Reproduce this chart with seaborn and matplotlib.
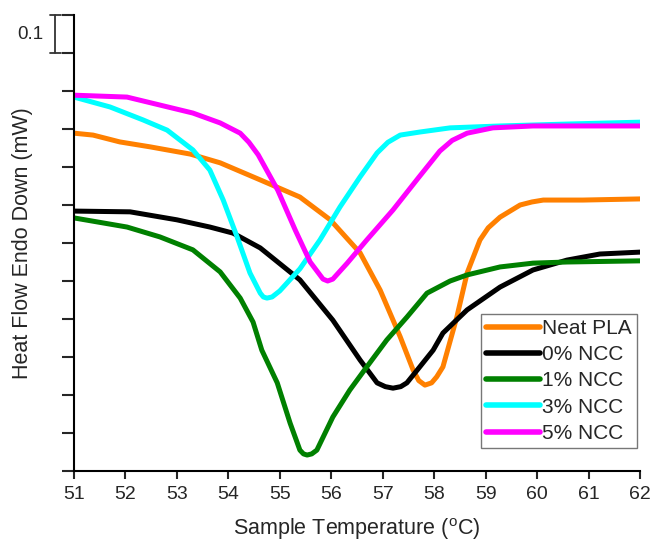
import numpy as np
import pandas as pd
import matplotlib
matplotlib.use("Agg")
import matplotlib.pyplot as plt
import matplotlib.transforms as mtransforms
import seaborn as sns

# ---- data (temperature in °C, heat flow offset in mW) ----
neat_T = [51.00, 51.37, 51.89, 52.48, 53.26, 53.84, 54.62, 55.39, 55.98, 56.56, 56.95,
          57.34, 57.59, 57.70, 57.82, 57.95, 58.05, 58.17, 58.44, 58.64, 58.89, 59.05,
          59.28, 59.67, 59.90, 60.12, 60.89, 62.00]
neat_v = [0.889, 0.884, 0.866, 0.853, 0.834, 0.811, 0.766, 0.721, 0.661, 0.574, 0.476,
          0.353, 0.266, 0.238, 0.226, 0.232, 0.248, 0.274, 0.405, 0.521, 0.608, 0.640,
          0.668, 0.700, 0.708, 0.713, 0.713, 0.716]

ncc0_T = [51.00, 52.09, 53.00, 53.64, 54.09, 54.62, 55.39, 56.03, 56.56, 56.89, 57.05, 57.20,
          57.35, 57.47, 57.72, 57.98, 58.17, 58.64, 59.28, 59.92, 60.58, 61.22, 62.00]
ncc0_v = [0.684, 0.682, 0.661, 0.642, 0.626, 0.587, 0.503, 0.397, 0.292, 0.232, 0.222, 0.218,
          0.222, 0.232, 0.274, 0.318, 0.363, 0.424, 0.484, 0.529, 0.555, 0.571, 0.576]

ncc1_T = [51.00, 52.03, 52.67, 53.31, 53.84, 54.23, 54.48, 54.65, 54.95, 55.20, 55.39, 55.46,
          55.53, 55.62, 55.72, 56.03, 56.36, 56.69, 57.08, 57.47, 57.86, 58.31, 58.64, 59.28,
          59.92, 60.58, 62.00]
ncc1_v = [0.666, 0.642, 0.616, 0.582, 0.524, 0.455, 0.392, 0.318, 0.232, 0.126, 0.055, 0.045,
          0.042, 0.045, 0.055, 0.142, 0.213, 0.274, 0.345, 0.405, 0.468, 0.500, 0.516, 0.537,
          0.547, 0.550, 0.553]

ncc3_T = [51.00, 51.70, 52.34, 52.81, 53.31, 53.64, 53.90, 54.17, 54.42, 54.62, 54.68, 54.75,
          54.85, 55.00, 55.39, 55.78, 56.17, 56.56, 56.89, 57.10, 57.34, 57.72, 58.31, 59.28,
          60.58, 62.00]
ncc3_v = [0.984, 0.958, 0.924, 0.897, 0.845, 0.792, 0.713, 0.616, 0.521, 0.468, 0.458, 0.455,
          0.458, 0.474, 0.532, 0.608, 0.695, 0.774, 0.837, 0.865, 0.884, 0.892, 0.903, 0.908,
          0.913, 0.918]

ncc5_T = [51.00, 52.03, 52.67, 53.31, 53.84, 54.23, 54.40, 54.58, 54.96, 55.30, 55.59, 55.84,
          55.93, 56.03, 56.31, 56.69, 57.20, 57.69, 58.11, 58.35, 58.64, 59.14, 59.92, 62.00]
ncc5_v = [0.989, 0.984, 0.963, 0.942, 0.916, 0.889, 0.865, 0.832, 0.739, 0.634, 0.550, 0.505,
          0.500, 0.505, 0.547, 0.608, 0.687, 0.771, 0.842, 0.870, 0.889, 0.903, 0.908, 0.908]

labels = ["Neat PLA", "0% NCC", "1% NCC", "3% NCC", "5% NCC"]
colors = ["#FF8000", "#000000", "#008000", "#00FFFF", "#FF00FF"]
x_ticks = list(range(51, 63))

series = [(neat_T, neat_v), (ncc0_T, ncc0_v), (ncc1_T, ncc1_v), (ncc3_T, ncc3_v), (ncc5_T, ncc5_v)]
frames = []
for lab, (t, v) in zip(labels, series):
    frames.append(pd.DataFrame({"T": t, "v": v, "Sample": lab}))
df = pd.concat(frames, ignore_index=True)

sns.set_style("white")
plt.rcParams["font.family"] = ["Liberation Sans", "DejaVu Sans"]
plt.rcParams["mathtext.default"] = "regular"

fig = plt.figure(figsize=(6.51, 5.43), dpi=100)
ax = fig.add_axes([74 / 651, 72 / 543, 566 / 651, 456 / 543])

sns.lineplot(data=df, x="T", y="v", hue="Sample", hue_order=labels,
             palette=dict(zip(labels, colors)), estimator=None, sort=False,
             linewidth=3.6, solid_joinstyle="round", solid_capstyle="round", ax=ax)

ax.set_xlim(51, 62)
ax.set_ylim(0, 1.2)
ax.set_xticks(x_ticks)
ax.set_xticklabels([str(t) for t in x_ticks], fontsize=14)
ax.set_yticks(np.arange(0, 1.21, 0.1))
ax.set_yticklabels([])
for s in ["top", "right"]:
    ax.spines[s].set_visible(False)
for s in ["left", "bottom"]:
    ax.spines[s].set_linewidth(1.5)
    ax.spines[s].set_color("black")
ax.tick_params(axis="x", direction="out", length=6, width=1.5, pad=5, bottom=True)
ax.tick_params(axis="y", direction="out", length=9, width=1.5, left=True)

ax.set_xlabel("Sample Temperature ($^{o}$C)", fontsize=15.5, labelpad=9)
ax.set_ylabel("Heat Flow Endo Down (mW)", fontsize=15.5, labelpad=17)

# scale bar (0.1 mW)
tr = mtransforms.blended_transform_factory(fig.transFigure, ax.transData)
xb = 55 / 651
ax.plot([xb, xb], [1.1, 1.2], transform=tr, color="#333333", lw=1.3, clip_on=False)
for yy in (1.1, 1.2):
    ax.plot([50 / 651, 61 / 651], [yy, yy], transform=tr, color="#333333", lw=1.3, clip_on=False)
ax.text(30 / 651, 1.15, "0.1", transform=tr, fontsize=13.5, ha="center", va="center")

leg = ax.legend(loc="lower right", bbox_to_anchor=(0.995, 0.05), fontsize=15,
                frameon=True, fancybox=False, edgecolor="#555555",
                handlelength=2.6, handletextpad=0.1, labelspacing=0.35,
                borderpad=0.25, borderaxespad=0)
leg.get_frame().set_linewidth(1.0)
for line in leg.get_lines():
    line.set_linewidth(4)

fig.savefig("out.png", dpi=100)
